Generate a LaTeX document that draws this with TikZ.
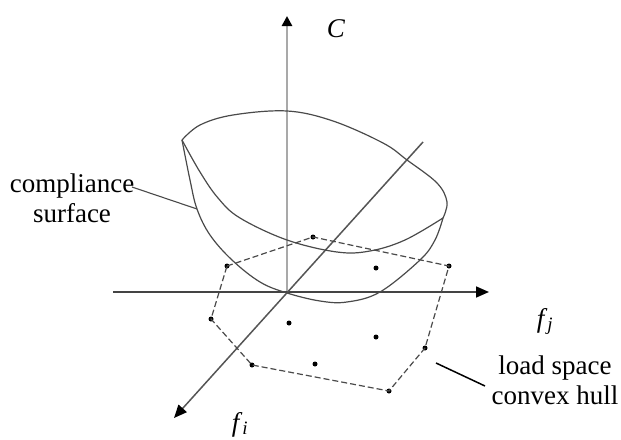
\documentclass[tikz,border=0pt]{standalone}
\usepackage{fontspec}
\setmainfont{Liberation Serif}
\usetikzlibrary{arrows.meta}
\definecolor{caxis}{HTML}{A9A9A9}
\definecolor{jaxis}{HTML}{444444}
\definecolor{iaxis}{HTML}{555555}
\definecolor{surfline}{HTML}{4A4A4A}
\definecolor{hullline}{HTML}{4A4A4A}

\tikzset{
  surf/.style={surfline,line width=1.2pt},
  hulledge/.style={hullline,line width=1.2pt,dash pattern=on 6pt off 3pt},
  loadpt/.style={circle,fill=black,inner sep=0pt,minimum size=5pt},
  lbl/.style={font=\fontsize{27}{30}\selectfont,align=center,inner sep=0pt},
}

\begin{document}
\begin{tikzpicture}[x=1pt,y=-1pt]
  \useasboundingbox (0,0) rectangle (621,439);

  % axes
  \coordinate (O) at (287,292);
  \coordinate (ctip) at (287,16);
  \coordinate (jstart) at (113,292);
  \coordinate (jtip) at (489,292);
  \coordinate (istart) at (423,142);
  \coordinate (itip) at (174,418);

  \draw[caxis,line width=2.8pt,-{Triangle[color=black,length=10pt,width=10pt]}] (O) -- (ctip);
  \draw[jaxis,line width=1.6pt,-{Triangle[color=black,length=13pt,width=11pt]}] (jstart) -- (jtip);
  \draw[iaxis,line width=1.5pt,-{Triangle[color=black,length=13pt,width=11pt]}] (istart) -- (itip);

  \node[lbl,anchor=base] (clab) at (336,37) {\textit{C}};
  \node[lbl,anchor=base] (jlab) at (545,327) {\textit{f}\textsubscript{\textit{j}}};
  \node[lbl,anchor=base] (ilab) at (240,431) {\textit{f}\textsubscript{\textit{i}}};

  % load space convex hull
  \node[loadpt] (h1) at (227,266) {};
  \node[loadpt] (h2) at (313,237) {};
  \node[loadpt] (h3) at (449,266) {};
  \node[loadpt] (h4) at (425,348) {};
  \node[loadpt] (h5) at (389,391) {};
  \node[loadpt] (h6) at (252,365) {};
  \node[loadpt] (h7) at (211,319) {};
  \draw[hulledge] (h1.center) -- (h2.center) -- (h3.center) -- (h4.center)
    -- (h5.center) -- (h6.center) -- (h7.center) -- cycle;

  \node[loadpt] (p1) at (376,268) {};
  \node[loadpt] (p2) at (289,323) {};
  \node[loadpt] (p3) at (376,337) {};
  \node[loadpt] (p4) at (315,364) {};

  % compliance surface
  \draw[surf] plot[smooth,tension=0.6] coordinates {(182,140) (200,125) (233,115)
    (287,111) (333,121) (383,143) (407,160) (437,183) (447,202) (443,218)};
  \draw[surf] plot[smooth,tension=0.6] coordinates {(182,140) (200,172) (218,198)
    (240,218) (287,240) (337,252) (370,251) (405,240) (443,218)};
  \draw[surf] plot[smooth,tension=0.6] coordinates {(182,140) (190,180) (197,209)
    (210,235) (232,260) (260,282) (287,293) (320,301) (347,302) (380,292) (420,260)
    (435,240) (443,218)};

  % labels
  \node[lbl] (cs) at (72,198) {compliance\\surface};
  \node[lbl] (ls) at (555,380) {load space\\convex hull};

  \coordinate (csfoot) at (132,187);
  \coordinate (cstip) at (197,209);
  \draw[surfline,line width=1.1pt] (csfoot) -- (cstip);

  \coordinate (lsfoot) at (485,386);
  \coordinate (lstip) at (436,363);
  \draw[black,line width=1.5pt] (lsfoot) -- (lstip);
\end{tikzpicture}
\end{document}
